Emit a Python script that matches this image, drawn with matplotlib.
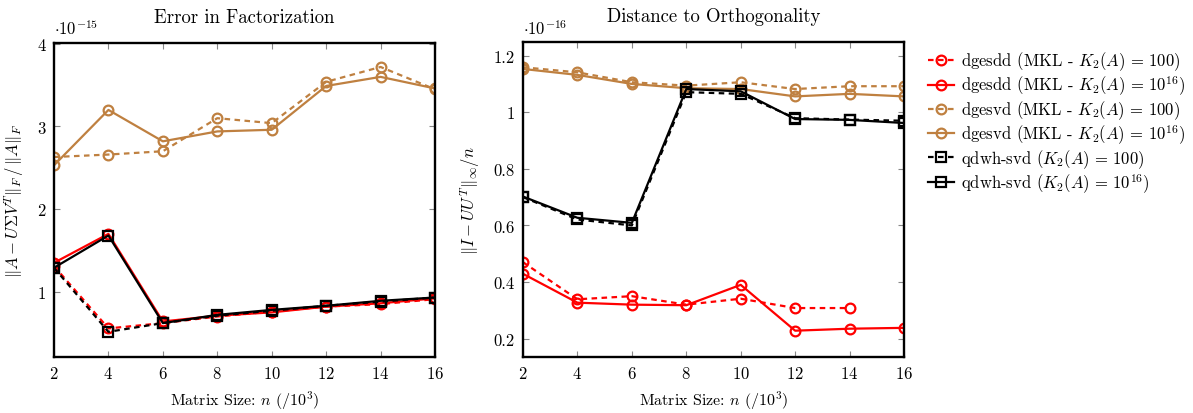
import matplotlib
matplotlib.use("Agg")
import matplotlib.pyplot as plt
from matplotlib.ticker import FormatStrFormatter, MultipleLocator

plt.rcParams['font.family'] = 'serif'
plt.rcParams['font.serif'] = ['cmr10']
plt.rcParams['mathtext.fontset'] = 'cm'
plt.rcParams['axes.formatter.use_mathtext'] = True
plt.rcParams['axes.unicode_minus'] = False

n = [2, 4, 6, 8, 10, 12, 14, 16]
n_short = [2, 4, 6, 8, 10, 12, 14]

# Error in factorization (units of 1e-15)
fact_dgesdd_100 = [1.31, 0.556, 0.62, 0.70, 0.76, 0.82, 0.85, 0.91]
fact_dgesdd_1e16 = [1.35, 1.70, 0.64, 0.71, 0.75, 0.82, 0.86, 0.92]
fact_dgesvd_100 = [2.63, 2.66, 2.70, 3.10, 3.04, 3.54, 3.72, 3.45]
fact_dgesvd_1e16 = [2.53, 3.20, 2.82, 2.94, 2.96, 3.49, 3.60, 3.46]
fact_qdwh_100 = [1.29, 0.515, 0.62, 0.71, 0.77, 0.83, 0.88, 0.93]
fact_qdwh_1e16 = [1.29, 1.68, 0.62, 0.72, 0.78, 0.83, 0.89, 0.93]

# Distance to orthogonality (units of 1e-16)
orth_dgesdd_100 = [0.47, 0.339, 0.35, 0.32, 0.341, 0.308, 0.308]
orth_dgesdd_1e16 = [0.429, 0.327, 0.32, 0.318, 0.39, 0.228, 0.235, 0.238]
orth_dgesvd_100 = [1.159, 1.141, 1.106, 1.094, 1.106, 1.082, 1.092, 1.092]
orth_dgesvd_1e16 = [1.153, 1.132, 1.100, 1.085, 1.082, 1.056, 1.065, 1.056]
orth_qdwh_100 = [0.70, 0.621, 0.60, 1.071, 1.065, 0.979, 0.974, 0.970]
orth_qdwh_1e16 = [0.702, 0.627, 0.609, 1.082, 1.074, 0.976, 0.973, 0.962]

labels = [r'dgesdd (MKL - $K_2(A)\,=\,100$)',
          r'dgesdd (MKL - $K_2(A)\,=\,10^{16}$)',
          r'dgesvd (MKL - $K_2(A)\,=\,100$)',
          r'dgesvd (MKL - $K_2(A)\,=\,10^{16}$)',
          r'qdwh-svd ($K_2(A)\,=\,100$)',
          r'qdwh-svd ($K_2(A)\,=\,10^{16}$)']

red = '#ff0000'
brown = '#bf8040'
lw = 1.6
ms = 7

fig = plt.figure(figsize=(11.93, 4.14), dpi=100)
ax1 = fig.add_axes([54 / 1193, 56 / 414, 381 / 1193, 314 / 414])
ax2 = fig.add_axes([523 / 1193, 56 / 414, 381 / 1193, 315.5 / 414])


def draw(ax, xs_list, ys_list):
    styles = [(red, '--', 'o'), (red, '-', 'o'), (brown, '--', 'o'),
              (brown, '-', 'o'), ('black', '--', 's'), ('black', '-', 's')]
    handles = []
    for (c, ls, m), xs, ys, lab in zip(styles, xs_list, ys_list, labels):
        h, = ax.plot(xs, ys, color=c, ls=ls, lw=lw, marker=m, ms=ms,
                     mfc='none', mec=c, mew=1.6, label=lab)
        if ls == '--':
            h.set_dashes((2.5, 2))
        handles.append(h)
    ax.set_xlim(2, 16)
    ax.set_xticks(n)
    for sp in ax.spines.values():
        sp.set_linewidth(1.7)
    ax.tick_params(direction='in', length=4, width=0.8, color='#888888',
                   top=True, right=True, labelsize=12, pad=6)
    ax.yaxis.set_major_formatter(FormatStrFormatter('%g'))
    ax.set_xlabel(r'Matrix Size: $n$ $(/10^3)$', fontsize=11.5, labelpad=5)
    return handles


draw(ax1, [n] * 6, [fact_dgesdd_100, fact_dgesdd_1e16, fact_dgesvd_100,
                    fact_dgesvd_1e16, fact_qdwh_100, fact_qdwh_1e16])
ax1.set_ylim(0.21, 4.01)
ax1.yaxis.set_major_locator(MultipleLocator(1))
ax1.set_title('Error in Factorization', fontsize=13.5, pad=15)
ax1.set_ylabel(r'$\|A - U\Sigma V^T\|_F\, / \,\|A\|_F$', fontsize=12, labelpad=8)
ax1.text(0.0, 1.02, r'$\cdot 10^{-15}$', transform=ax1.transAxes,
         fontsize=12, ha='left', va='bottom')

handles = draw(ax2, [n_short] + [n] * 5,
               [orth_dgesdd_100, orth_dgesdd_1e16, orth_dgesvd_100,
                orth_dgesvd_1e16, orth_qdwh_100, orth_qdwh_1e16])
ax2.set_ylim(0.135, 1.25)
ax2.yaxis.set_major_locator(MultipleLocator(0.2))
ax2.set_title('Distance to Orthogonality', fontsize=13.5, pad=15)
ax2.set_ylabel(r'$\|I - UU^T\|_\infty / n$', fontsize=12, labelpad=8)
ax2.text(0.0, 1.015, r'$\cdot 10^{-16}$', transform=ax2.transAxes,
         fontsize=12, ha='left', va='bottom')

fig.legend(handles=handles, loc='upper left', bbox_to_anchor=(921 / 1193, 1 - 44 / 414),
           frameon=False, fontsize=12, handlelength=1.6, handletextpad=0.4,
           labelspacing=0.08, borderaxespad=0)

fig.savefig('out.png', dpi=100)
